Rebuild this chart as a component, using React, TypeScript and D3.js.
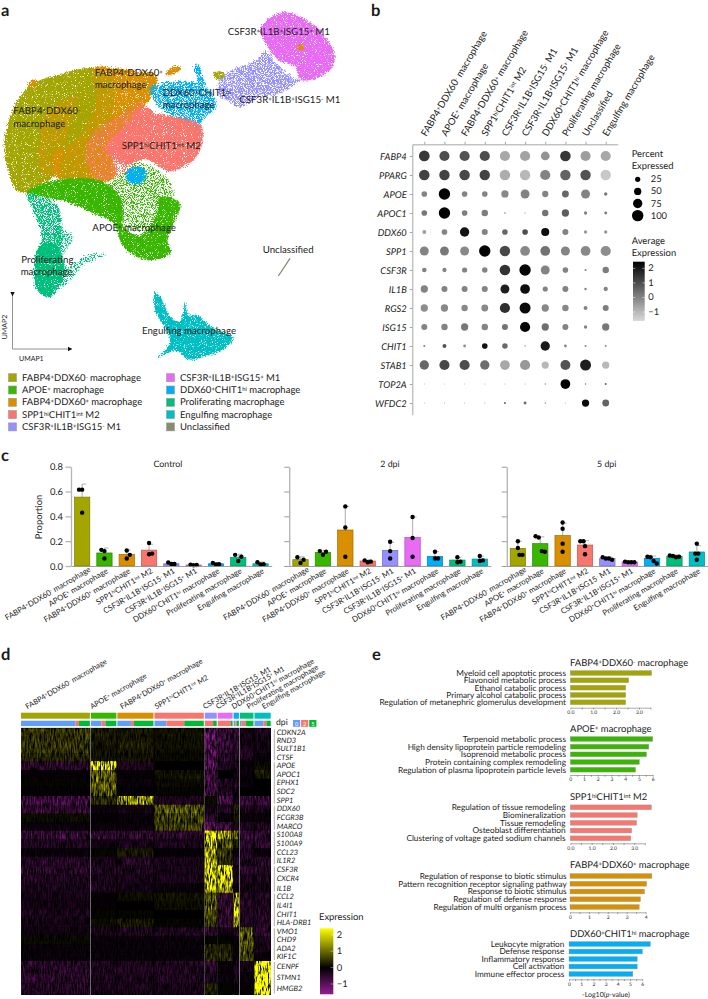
import React, {useEffect, useRef} from "react";
import * as d3 from "d3";

const FONT = "Lato, 'Noto Sans', sans-serif";

// ---- shared cluster info ----
const clusterNames = [
	"FABP4^+^DDX60^-^ macrophage",
	"APOE^+^ macrophage",
	"FABP4^+^DDX60^+^ macrophage",
	"SPP1^hi^CHIT1^int^ M2",
	"CSF3R^+^IL1B^+^ISG15^-^ M1",
	"CSF3R^+^IL1B^+^ISG15^+^ M1",
	"DDX60^+^CHIT1^hi^ macrophage",
	"Proliferating macrophage",
	"Engulfing macrophage",
];
const clusterColors = ["#a3a500", "#39b600", "#d89000", "#f8766d", "#9590ff", "#e76bf3", "#00b0f6", "#00bf7d", "#00bfc4"];
const unclassifiedColor = "#8a8a70";

// ---- panel a: UMAP cluster outlines ----
type Pt = [number, number];
const umapOlive: Pt[] = [[110,245],[170,225],[280,205],[310,225],[300,300],[290,380],[250,450],[190,500],[165,530],[120,555],[85,580],[50,570],[25,510],[13,430],[30,350],[60,290],[85,262]];
const umapOrange: Pt[] = [[282,205],[350,205],[420,215],[470,225],[455,290],[430,320],[380,380],[335,440],[345,530],[250,552],[175,535],[160,470],[215,430],[265,370],[290,300]];
const umapOrangeMix: Pt[] = [[150,330],[280,280],[300,400],[230,520],[130,520],[120,420]];
const umapOliveMix: Pt[] = [[280,215],[340,240],[340,340],[300,450],[250,540],[180,530],[200,430]];
const umapSalmon: Pt[] = [[430,320],[470,340],[520,350],[600,372],[608,420],[590,470],[530,510],[500,512],[440,478],[380,492],[340,475],[318,440],[370,380]];
const umapSalmonMix: Pt[] = [[280,400],[370,340],[430,300],[400,500],[300,540],[260,480]];
const umapGreen: Pt[] = [[80,578],[170,540],[310,545],[365,600],[372,680],[420,705],[470,645],[480,590],[540,610],[503,720],[512,760],[440,780],[370,740],[340,670],[280,640],[200,605]];
const umapGreenSparse: Pt[] = [[360,495],[440,490],[525,570],[500,620],[440,690],[370,670],[330,560]];
const umapBlue: Pt[] = [[450,262],[480,252],[580,245],[640,282],[650,322],[610,358],[590,405],[570,372],[520,350],[490,330],[462,300]];
const umapBlueArm: Pt[] = [[580,200],[595,193],[605,215],[618,265],[595,262],[590,225]];
const umapBlueSpot: Pt[] = [[385,510],[420,500],[442,520],[425,548],[400,552],[380,535]];
const umapProlif: Pt[] = [[118,740],[165,730],[195,810],[178,860],[148,892],[120,880],[103,850]];
const umapProlifUpper: Pt[] = [[82,582],[130,590],[170,612],[188,680],[180,750],[120,770],[125,700],[100,630]];
const umapProlifArm: Pt[] = [[170,690],[222,705],[205,745],[175,790],[215,795],[265,765],[320,765],[260,790],[190,860],[170,800]];
const umapPurple: Pt[] = [[660,242],[700,210],[770,180],[800,152],[830,190],[880,232],[900,240],[840,282],[780,292],[720,322],[690,302],[660,290]];
const umapPink: Pt[] = [[800,62],[850,36],[900,50],[960,90],[1005,170],[985,215],[905,240],[885,200],[835,180],[800,135],[780,90]];
const umapTeal: Pt[] = [[465,875],[485,895],[510,950],[540,965],[555,905],[565,945],[590,945],[640,985],[700,1012],[680,1040],[620,1068],[565,1078],[530,1052],[500,1060],[475,1072],[500,1045],[510,1020],[490,975],[465,930]];
const umapUnclassified: Pt[] = [[835,828],[870,775]];
const umapOrangeBitA: Pt[] = [[495,225],[525,198],[545,205],[520,222]];
const umapOrangeBitB: Pt[] = [[85,252],[100,238],[112,245],[98,264]];
const umapOrangeBitC: Pt[] = [[892,140],[905,132],[912,146],[898,150]];
const umapOliveBit: Pt[] = [[640,220],[665,215],[675,232],[650,238]];

const umapLabels: Array<[string, number, number]> = [
	["CSF3R^+^IL1B^+^ISG15^+^ M1", 683, 105],
	["FABP4^+^DDX60^+^", 284, 228],
	["macrophage", 284, 265],
	["DDX60^+^CHIT1^hi^", 488, 287],
	["macrophage", 488, 324],
	["CSF3R^+^IL1B^+^ISG15^-^ M1", 718, 310],
	["FABP4^+^DDX60^-^", 40, 342],
	["macrophage", 40, 380],
	["SPP1^hi^CHIT1^int^ M2", 365, 448],
	["APOE^+^ macrophage", 277, 692],
	["Proliferating", 64, 790],
	["macrophage", 62, 826],
	["Unclassified", 788, 760],
	["Engulfing macrophage", 426, 1002],
];

const legendOrder = [0, 1, 2, 3, 4, 5, 6, 7, 8, 9];

// ---- panel b: dot plot ----
const dotColumns = [
	"FABP4^+^DDX60^-^ macrophage",
	"APOE^+^ macrophage",
	"FABP4^+^DDX60^+^ macrophage",
	"SPP1^hi^CHIT1^int^ M2",
	"CSF3R^+^IL1B^+^ISG15^-^ M1",
	"CSF3R^+^IL1B^+^ISG15^+^ M1",
	"DDX60^+^CHIT1^hi^ macrophage",
	"Proliferating macrophage",
	"Unclassified",
	"Engulfing macrophage",
];
const dotGenes = ["FABP4", "PPARG", "APOE", "APOC1", "DDX60", "SPP1", "CSF3R", "IL1B", "RGS2", "ISG15", "CHIT1", "STAB1", "TOP2A", "WFDC2"];
const dotPercent = [
	[92, 85, 85, 85, 85, 85, 68, 90, 85, 85],
	[90, 88, 88, 88, 88, 88, 85, 88, 88, 88],
	[30, 100, 30, 30, 50, 70, 38, 45, 70, 15],
	[30, 100, 30, 40, 5, 3, 40, 50, 15, 12],
	[18, 30, 75, 35, 30, 30, 60, 35, 15, 15],
	[70, 70, 70, 100, 88, 80, 80, 72, 80, 85],
	[22, 20, 25, 28, 90, 100, 70, 30, 8, 40],
	[50, 35, 35, 35, 70, 80, 25, 35, 10, 20],
	[50, 50, 40, 45, 85, 95, 50, 40, 18, 35],
	[35, 40, 50, 40, 35, 85, 50, 35, 15, 50],
	[8, 18, 12, 30, 28, 4, 75, 12, 8, 8],
	[75, 85, 85, 75, 80, 85, 50, 82, 95, 50],
	[1, 1, 1, 2, 2, 2, 4, 80, 4, 8],
	[2, 2, 2, 2, 8, 12, 4, 2, 50, 45],
];
const dotExpression = [
	[1.4, 1.0, 0.9, 1.0, -0.7, -0.6, -0.3, 1.4, -0.5, -0.7],
	[1.2, 1.2, 1.1, 1.2, -0.8, -1.0, 0.0, 0.6, 0.9, -1.3],
	[0.0, 2.4, 0.0, 0.0, -0.1, 0.0, 0.0, 0.5, 0.0, 0.2],
	[0.2, 2.4, 0.1, 0.1, 0.2, 0.2, 0.3, 0.7, 0.0, 0.2],
	[-0.5, 0.0, 2.1, 0.0, 0.5, 1.0, 2.2, 0.0, -0.4, -0.4],
	[0.0, 0.2, -0.1, 2.4, 1.1, -0.1, 0.3, 0.0, -0.1, -0.2],
	[0.0, 0.0, 0.0, 0.0, 1.5, 2.4, 0.0, 0.0, 0.0, 0.1],
	[0.0, 0.0, 0.0, 0.0, 1.9, 2.2, 0.0, 0.0, 0.0, 0.0],
	[-0.2, -0.1, -0.1, -0.1, 1.6, 2.3, -0.1, -0.1, 0.0, 0.1],
	[0.0, 0.0, 0.2, 0.0, 0.3, 2.4, 0.4, 0.0, 0.0, 0.2],
	[0.0, 0.9, -0.2, 2.1, 0.5, 0.0, 2.0, -0.1, -0.1, -0.3],
	[0.5, 1.1, 1.0, 0.4, -0.7, -0.4, -1.0, 0.9, 1.9, -1.0],
	[0.0, 0.0, 0.0, 0.0, 0.0, 0.0, 0.0, 2.4, 0.4, 0.5],
	[0.0, 0.0, 0.0, 0.0, 0.5, 0.5, 0.0, 0.0, 2.3, 0.6],
];
const percentLegend = [25, 50, 75, 100];
const avgExprTicks = [2, 1, 0, -1];

// ---- panel c: proportions ----
const controlMeans = [0.555, 0.105, 0.093, 0.128, 0.018, 0.008, 0.018, 0.068, 0.018];
const controlUpper = [0.66, 0.145, 0.13, 0.175, 0.03, 0.012, 0.028, 0.095, 0.032];
const controlDots = [[0.615, 0.615, 0.43], [0.13, 0.12, 0.06], [0.125, 0.06, 0.09], [0.185, 0.095, 0.1], [0.028, 0.016, 0.016], [0.01, 0.006, 0.008], [0.025, 0.012, 0.014], [0.09, 0.04, 0.075], [0.03, 0.012, 0.014]];
const dpi2Means = [0.051, 0.11, 0.29, 0.04, 0.126, 0.231, 0.078, 0.048, 0.056];
const dpi2Upper = [0.075, 0.125, 0.48, 0.05, 0.19, 0.395, 0.115, 0.07, 0.08];
const dpi2Dots = [[0.07, 0.025, 0.05], [0.12, 0.09, 0.115], [0.48, 0.31, 0.075], [0.045, 0.03, 0.035], [0.195, 0.12, 0.06], [0.395, 0.225, 0.075], [0.115, 0.06, 0.06], [0.07, 0.03, 0.035], [0.08, 0.04, 0.045]];
const dpi5Means = [0.142, 0.18, 0.245, 0.169, 0.062, 0.032, 0.062, 0.078, 0.113];
const dpi5Upper = [0.2, 0.235, 0.345, 0.205, 0.075, 0.037, 0.08, 0.09, 0.165];
const dpi5Dots = [[0.2, 0.145, 0.09, 0.09], [0.24, 0.23, 0.12, 0.115], [0.35, 0.3, 0.18, 0.115], [0.2, 0.2, 0.16, 0.095], [0.07, 0.06, 0.06, 0.05], [0.035, 0.03, 0.03, 0.03], [0.075, 0.07, 0.04, 0.02], [0.085, 0.08, 0.07, 0.075], [0.18, 0.1, 0.1, 0.05]];

// ---- panel d: heatmap ----
const heatGroups = [
	["CDKN2A", "RND3", "SULT1B1", "CTSF"],
	["APOE", "APOC1", "EPHX1", "SDC2", "SPP1"],
	["DDX60", "FCGR3B", "MARCO"],
	["S100A8", "S100A9", "CCL23", "IL1R2"],
	["CSF3R", "CXCR4", "IL1B"],
	["CCL2", "IL4I1", "CHIT1", "HLA-DRB1"],
	["VMO1", "CHD9", "ADA2", "KIF1C"],
	["CENPF", "STMN1", "HMGB2"],
];
const heatValues = [
	[0.45, 0.22, 0.2, 0.15, -0.8, -0.5, -0.6, -0.2, -0.3],
	[0.42, 0.2, 0.22, 0.12, -0.8, -0.55, -0.5, -0.2, -0.2],
	[0.42, 0.15, 0.22, 0.12, -0.85, -0.5, -0.4, -0.3, -0.2],
	[0.3, 0.15, 0.15, 0.08, -0.7, -0.4, -0.4, -0.3, -0.1],
	[-0.4, 1.7, -0.3, 0.0, -0.8, -0.3, -0.3, -0.1, 0.1],
	[-0.05, 0.8, -0.05, 0.15, -0.6, 0.0, -0.2, -0.1, 0.2],
	[0.05, 0.75, -0.1, 0.08, -0.6, -0.3, -0.3, -0.1, 0.0],
	[-0.05, 0.7, -0.05, 0.05, -0.6, -0.3, -0.2, 0.0, 0.0],
	[-0.6, 0.35, 1.2, -0.3, 0.1, -0.7, -0.2, -0.5, -0.5],
	[-0.45, -0.1, -0.2, 0.7, -0.2, -0.3, 0.3, -0.3, -0.3],
	[0.1, -0.05, -0.1, 0.55, -0.4, -0.1, 0.15, -0.1, -0.1],
	[-0.1, -0.1, -0.1, 0.5, -0.7, -0.6, -0.3, -0.3, -0.3],
	[-0.5, -0.45, -0.45, -0.45, 2.0, 1.2, 0.9, -0.5, -0.5],
	[-0.3, -0.2, -0.25, -0.25, 1.6, 0.6, 0.25, -0.4, -0.4],
	[-0.1, 0.05, 0.2, -0.05, 1.4, 0.45, -0.1, -0.3, -0.1],
	[-0.35, -0.25, -0.35, -0.25, 1.3, 0.35, -0.3, -0.4, -0.4],
	[-0.4, -0.3, -0.3, -0.25, 1.9, 2.2, -0.2, -0.4, -0.4],
	[-0.3, -0.25, -0.25, -0.25, 1.7, 1.8, -0.3, -0.25, -0.25],
	[-0.25, -0.25, -0.2, -0.1, 1.5, 1.4, -0.1, -0.2, -0.2],
	[-0.2, -0.05, 0.1, 0.15, 0.8, -0.45, 1.5, -0.3, -0.3],
	[-0.2, -0.05, 0.0, 0.1, 0.8, -0.45, 1.7, -0.35, -0.35],
	[-0.25, 0.05, 0.05, 0.0, 0.6, -0.5, 1.7, -0.35, -0.4],
	[-0.2, 0.1, 0.2, 0.05, 0.45, -0.5, 1.3, -0.3, -0.35],
	[-0.15, -0.25, -0.3, -0.3, -0.45, -0.15, -0.4, 0.8, -0.45],
	[0.08, -0.1, -0.1, -0.1, 0.05, 0.05, -0.1, 0.7, -0.25],
	[-0.1, -0.1, -0.1, -0.1, 0.3, 0.25, -0.1, 0.6, -0.25],
	[-0.1, -0.1, -0.1, -0.1, 0.35, 0.3, -0.1, 0.6, -0.1],
	[-0.4, -0.3, -0.3, -0.3, -0.4, -0.1, -0.3, -0.2, 2.3],
	[-0.4, -0.3, -0.3, -0.3, -0.3, -0.1, -0.3, -0.1, 2.3],
	[-0.35, -0.25, -0.25, -0.25, 0.25, 0.05, -0.1, -0.05, 2.3],
];
// cells per cluster at 0, 2 and 5 dpi
const dpiCounts = [[165, 10, 33], [32, 12, 33], [41, 9, 59], [36, 54, 59], [0, 25, 11], [0, 40, 5], [5, 4, 7], [4, 13, 24], [27, 9, 13]];
const dpiColors = ["#619cff", "#f8766d", "#00ba38"];
const dpiLabels = ["0", "2", "5"];
const heatOrder = [0, 1, 2, 3, 4, 5, 6, 7, 8];
const expressionTicks = [2, 1, 0, -1];

// ---- panel e: enrichment ----
const termsF4n = ["Myeloid cell apoptotic process", "Flavonoid metabolic process", "Ethanol catabolic process", "Primary alcohol catabolic process", "Regulation of metanephric glomerulus development"];
const scoresF4n = [3.55, 2.55, 2.42, 2.42, 2.42];
const termsApoe = ["Terpenoid metabolic process", "High density lipoprotein particle remodeling", "Isoprenoid metabolic process", "Protein containing complex remodeling", "Regulation of plasma lipoprotein particle levels"];
const scoresApoe = [6.0, 5.72, 5.55, 5.03, 4.75];
const termsSpp1 = ["Regulation of tissue remodeling", "Biomineralization", "Tissue remodeling", "Osteoblast differentiation", "Clustering of voltage gated sodium channels"];
const scoresSpp1 = [3.81, 3.14, 3.11, 2.88, 2.84];
const termsF4p = ["Regulation of response to biotic stimulus", "Pattern recognition receptor signaling pathway", "Response to biotic stimulus", "Regulation of defense response", "Regulation of multi organism process"];
const scoresF4p = [4.33, 4.05, 3.94, 3.73, 3.66];
const termsDdx = ["Leukocyte migration", "Defense response", "Inflammatory response", "Cell activation", "Immune effector process"];
const scoresDdx = [6.67, 6.02, 5.59, 5.59, 5.23];

// superscript markup: "A^+^B" -> A, raised +, B
const Sup: React.FC<{text: string}> = ({text}) => (
	<>
		{text.split("^").map((part, i) =>
			i % 2 ? (
				<tspan key={i} fontSize="62%" baselineShift="38%">
					{part}
				</tspan>
			) : (
				<tspan key={i}>{part}</tspan>
			),
		)}
	</>
);

// runs a d3 axis on a <g> and restyles it
const AxisG: React.FC<{
	axis: any;
	transform?: string;
	stroke?: string;
	strokeWidth?: number;
	fontSize?: number;
	italic?: boolean;
}> = ({axis, transform, stroke = "#8f8f8f", strokeWidth = 0.8, fontSize = 9.4, italic}) => {
	const ref = useRef<SVGGElement>(null);
	useEffect(() => {
		const g = d3.select(ref.current as SVGGElement);
		g.call(axis);
		g.attr("font-family", FONT).attr("font-size", fontSize);
		g.selectAll("path,line").attr("stroke", stroke).attr("stroke-width", strokeWidth);
		g.selectAll("text").attr("fill", "#1c1c1c").attr("font-style", italic ? "italic" : "normal");
	}, [axis, stroke, strokeWidth, fontSize, italic]);
	return <g ref={ref} transform={transform} />;
};

const Grain: React.FC<{id: string; seed: number; k: number; b: number; scale: number}> = ({id, seed, k, b, scale}) => (
	<filter id={id} filterUnits="userSpaceOnUse" x="0" y="0" width="708" height="365" colorInterpolationFilters="sRGB">
		<feTurbulence type="fractalNoise" baseFrequency="1.1" numOctaves="2" seed={seed} result="n" />
		<feDisplacementMap in="SourceGraphic" in2="n" scale={scale} xChannelSelector="R" yChannelSelector="G" result="d" />
		<feColorMatrix in="n" type="matrix" values={`0 0 0 0 0 0 0 0 0 0 0 0 0 0 0 ${k} 0 0 0 ${b}`} result="mask" />
		<feComposite in="d" in2="mask" operator="in" />
	</filter>
);

// ---- panel a ----
const UmapPanel: React.FC = () => {
	const ux = d3.scaleLinear().domain([0, 1110]).range([0, 370]);
	const uy = d3.scaleLinear().domain([0, 1020]).range([0, 340]);
	const blob = d3.line<Pt>().x((d) => ux(d[0])).y((d) => uy(d[1])).curve(d3.curveCatmullRomClosed.alpha(0.5));
	const layers: Array<[Pt[], string, string]> = [
		[umapGreenSparse, clusterColors[1], "sparse"],
		[umapProlifArm, clusterColors[7], "sparse"],
		[umapOlive, clusterColors[0], "dense"],
		[umapOrange, clusterColors[2], "dense"],
		[umapOrangeMix, clusterColors[2], "sparse"],
		[umapOliveMix, clusterColors[0], "sparse"],
		[umapOrangeBitA, clusterColors[2], "dense"],
		[umapOrangeBitB, clusterColors[2], "dense"],
		[umapOliveBit, clusterColors[0], "dense"],
		[umapBlue, clusterColors[6], "mid"],
		[umapBlueArm, clusterColors[6], "mid"],
		[umapSalmon, clusterColors[3], "dense"],
		[umapSalmonMix, clusterColors[3], "sparse"],
		[umapGreen, clusterColors[1], "dense"],
		[umapBlueSpot, clusterColors[6], "dense"],
		[umapProlifUpper, clusterColors[7], "mid"],
		[umapProlif, clusterColors[7], "dense"],
		[umapPurple, clusterColors[4], "mid"],
		[umapPink, clusterColors[5], "dense"],
		[umapOrangeBitC, clusterColors[2], "dense"],
		[umapTeal, clusterColors[8], "dense"],
	];
	const names = [...clusterNames.slice(0, 9), "Unclassified"];
	const colors = [...clusterColors, unclassifiedColor];
	const segment = d3.line<Pt>().x((d) => ux(d[0])).y((d) => uy(d[1]));
	return (
		<g fontFamily={FONT} fill="#1c1c1c">
			<defs>
				<Grain id="grain-dense" seed={3} k={7} b={-1.75} scale={6} />
				<Grain id="grain-mid" seed={8} k={8} b={-3.1} scale={8} />
				<Grain id="grain-sparse" seed={5} k={8} b={-3.7} scale={9} />
				<marker id="arrow" viewBox="0 0 6 6" refX="3" refY="3" markerWidth="6" markerHeight="6" orient="auto">
					<path d="M0,0L6,3L0,6Z" fill="#111" />
				</marker>
			</defs>
			{layers.map(([pts, color, kind], i) => (
				<path key={i} d={blob(pts) as string} fill={color} filter={`url(#grain-${kind})`} />
			))}
			<path d={segment(umapUnclassified) as string} stroke={unclassifiedColor} strokeWidth={1.3} fill="none" />
			{umapLabels.map(([label, x, y], i) => (
				<text key={i} x={ux(x)} y={uy(y)} fontSize={9.7}>
					<Sup text={label} />
				</text>
			))}
			<path d="M12.5,294V349H70" fill="none" stroke="#777" strokeWidth={0.8} markerStart="url(#arrow)" markerEnd="url(#arrow)" />
			<text transform="translate(7,327) rotate(-90)" textAnchor="middle" fontSize={7}>UMAP2</text>
			<text x={19} y={361} fontSize={7}>UMAP1</text>
			{legendOrder.map((c, i) => {
				const col = i < 5 ? 0 : 1;
				const row = i % 5;
				const y = 377.7 + row * 12.3;
				return (
					<g key={c}>
						<rect x={col ? 166.5 : 8.5} y={y - 4} width={8} height={8} fill={colors[c]} stroke="#9a9a9a" strokeWidth={0.6} />
						<text x={col ? 180 : 22} y={y + 3} fontSize={9.5}>
							<Sup text={names[c]} />
						</text>
					</g>
				);
			})}
		</g>
	);
};

// ---- panel b ----
const DotPanel: React.FC = () => {
	const cx = d3.scalePoint<string>().domain(dotColumns).range([412.3, 617.7]).padding(0.595);
	const cy = d3.scalePoint<string>().domain(dotGenes).range([144.3, 414.7]).padding(0.615);
	const r = d3.scaleLinear().domain([0, 25, 100]).range([0.3, 2.6, 5.7]);
	const gray = d3.scaleLinear<string>().domain([-1.62, 2.46]).range(["#d9d9d9", "#000000"]);
	const barY = d3.scaleLinear().domain([-1.62, 2.46]).range([321, 261.7]);
	const stops = d3.range(0, 1.01, 0.1);
	const topAxis = d3.axisTop(cx).tickFormat(() => "").tickSizeInner(2.5).tickSizeOuter(0);
	const leftAxis = d3.axisLeft(cy).tickSizeInner(2.5).tickSizeOuter(0).tickPadding(3);
	return (
		<g fontFamily={FONT} fill="#1c1c1c">
			<AxisG axis={topAxis} transform="translate(0,144.3)" />
			<AxisG axis={leftAxis} transform="translate(412.3,0)" italic />
			{dotColumns.map((name) => (
				<text key={name} transform={`translate(${(cx(name) as number) + 2},137) rotate(-59.5)`} fontSize={9.6}>
					<Sup text={name} />
				</text>
			))}
			{dotGenes.map((gene, i) =>
				dotColumns.map((name, j) => (
					<circle key={gene + name} cx={cx(name)} cy={cy(gene)} r={r(dotPercent[i][j])} fill={gray(dotExpression[i][j])} />
				)),
			)}
			<text x={631.7} y={157} fontSize={9.4}>Percent</text>
			<text x={631.7} y={169} fontSize={9.4}>Expressed</text>
			{percentLegend.map((p, i) => (
				<g key={p}>
					<circle cx={637.7} cy={179.3 + i * 12.1} r={r(p)} fill="#000" />
					<text x={650.7} y={182.3 + i * 12.1} fontSize={9.4}>{p}</text>
				</g>
			))}
			<text x={631.7} y={244} fontSize={9.4}>Average</text>
			<text x={631.7} y={256} fontSize={9.4}>Expression</text>
			<defs>
				<linearGradient id="gray-bar" x1="0" y1="1" x2="0" y2="0">
					{stops.map((s) => (
						<stop key={s} offset={s} stopColor={gray(-1.62 + s * 4.08)} />
					))}
				</linearGradient>
			</defs>
			<rect x={633} y={261.7} width={11.7} height={59.3} fill="url(#gray-bar)" />
			{avgExprTicks.map((t) => (
				<g key={t}>
					<line x1={633} x2={635.3} y1={barY(t)} y2={barY(t)} stroke="#fff" strokeWidth={0.5} />
					<line x1={642.4} x2={644.7} y1={barY(t)} y2={barY(t)} stroke="#fff" strokeWidth={0.5} />
					<text x={648.3} y={barY(t) + 3} fontSize={9.4}>{t === -1 ? "−1" : t}</text>
				</g>
			))}
		</g>
	);
};

// ---- panel c ----
const BarPanel: React.FC<{
	title: string;
	titleX: number;
	x0: number;
	width: number;
	means: number[];
	upper: number[];
	dots: number[][];
	showLabels?: boolean;
}> = ({title, titleX, x0, width, means, upper, dots, showLabels}) => {
	const x = d3.scaleBand<string>().domain(clusterNames).range([x0, x0 + width]).paddingInner(0.314).paddingOuter(0.157);
	const y = d3.scaleLinear().domain([0, 0.8]).range([566, 466.7]);
	const bw = x.bandwidth();
	const yAxis = d3.axisLeft(y).tickValues([0, 0.2, 0.4, 0.6, 0.8]).tickSizeInner(showLabels ? 5.5 : 5).tickSizeOuter(0).tickPadding(2.5)
		.tickFormat(showLabels ? (d3.format(".1f") as any) : () => "");
	const xAxis = d3.axisBottom(x).tickFormat(() => "").tickSize(0);
	return (
		<g fontFamily={FONT} fill="#1c1c1c">
			<text x={titleX} y={467} textAnchor="middle" fontSize={8.8}>{title}</text>
			{clusterNames.map((name, i) => {
				const left = x(name) as number;
				const mid = left + bw / 2;
				const near = (v: number, j: number) => dots[i].some((o, k) => k !== j && Math.abs(o - v) < 0.035);
				return (
					<g key={name}>
						<line x1={mid} x2={mid} y1={y(upper[i])} y2={y(means[i])} stroke="#bdbdbd" strokeWidth={1.3} />
						<line x1={mid} x2={mid + 4} y1={y(upper[i])} y2={y(upper[i])} stroke="#666" strokeWidth={0.5} />
						<rect x={left} y={y(means[i])} width={bw} height={566 - y(means[i])} fill={clusterColors[i]} stroke={d3.color(clusterColors[i])?.darker(0.8).formatHex()} strokeWidth={0.7} />
						{dots[i].map((v, j) => (
							<circle key={j} cx={mid + (near(v, j) ? (j - (dots[i].length - 1) / 2) * 3.1 : 0)} cy={y(v)} r={2.2} fill="#000" />
						))}
						<text transform={`translate(${mid + (i === 0 ? 9 : 4)},${i === 0 ? 571 : 572.5}) rotate(-30.5)`} textAnchor="end" fontSize={7.8}>
							<Sup text={name} />
						</text>
					</g>
				);
			})}
			<AxisG axis={xAxis} transform="translate(0,566)" stroke="#8a8a8a" strokeWidth={0.8} />
			<AxisG axis={yAxis} transform={`translate(${x0},0)`} stroke={showLabels ? "#b5b5b5" : "#8f8f8f"} strokeWidth={showLabels ? 1.3 : 0.9} />
			{showLabels && (
				<text transform="translate(41.5,517) rotate(-90)" textAnchor="middle" fontSize={9.4}>Proportion</text>
			)}
		</g>
	);
};

// ---- panel d ----
const HeatPanel: React.FC = () => {
	const gapUnits = 3;
	const sizes = dpiCounts.map((c) => d3.sum(c));
	const starts = sizes.map((_, i) => d3.sum(sizes.slice(0, i)) + i * gapUnits);
	const hx = d3.scaleLinear().domain([0, d3.sum(sizes) + 8 * gapUnits]).range([21, 270.7]);
	const groupEdges = [728.3, 761.3, 804.7, 830.7, 865.3, 892.7, 927.3, 961, 994.3];
	const heat = d3.scaleLinear<string>().domain([-1.63, 0, 2.4]).range(["#941c94", "#000000", "#ffff00"]).clamp(true);
	const barY = d3.scaleLinear().domain([-1.63, 2.4]).range([994.3, 928.3]);
	const labelDx = [6.3, 1, 4.7, 2, 0, 0, 0, 8.7, 9.3];
	const stops = d3.range(0, 1.01, 0.1);
	let row = -1;
	return (
		<g fontFamily={FONT} fill="#1c1c1c">
			<defs>
				<filter id="streak" filterUnits="userSpaceOnUse" x="21" y="728" width="250" height="267" colorInterpolationFilters="sRGB">
					<feTurbulence type="fractalNoise" baseFrequency="0.7 0.12" numOctaves="3" seed="11" />
					<feColorMatrix type="matrix" values="1 0 0 0 0 1 0 0 0 0 1 0 0 0 0 0 0 0 0 1" result="n" />
					<feComposite in="SourceGraphic" in2="n" operator="arithmetic" k1="4" k2="-1.05" k3="0" k4="0" />
				</filter>
				<linearGradient id="heat-bar" x1="0" y1="1" x2="0" y2="0">
					{stops.map((s) => (
						<stop key={s} offset={s} stopColor={heat(-1.63 + s * 4.03)} />
					))}
				</linearGradient>
			</defs>
			{heatOrder.map((c) => {
				const x1 = hx(starts[c]);
				const w = hx(sizes[c]) - hx(0);
				let acc = starts[c];
				return (
					<g key={c}>
						<text transform={`translate(${x1 + labelDx[c]},709.3) rotate(-30)`} fontSize={7.4}>
							<Sup text={clusterNames[c]} />
						</text>
						<rect x={x1} y={712.7} width={w} height={6} fill={clusterColors[c]} />
						{dpiCounts[c].map((n, k) => {
							const rx = hx(acc);
							acc += n;
							return <rect key={k} x={rx} y={720.7} width={hx(n) - hx(0)} height={5.4} fill={dpiColors[k]} />;
						})}
					</g>
				);
			})}
			<rect x={21} y={727.6} width={249.7} height={267.4} fill="#a8a8a8" />
			<g filter="url(#streak)">
				{heatGroups.map((genes, g) => {
					const band = d3.scaleBand<string>().domain(genes).range([groupEdges[g], groupEdges[g + 1]]);
					return genes.map((gene) => {
						row += 1;
						const vals = heatValues[row];
						return heatOrder.map((c) => (
							<rect key={gene + c} x={hx(starts[c])} y={band(gene)} width={hx(sizes[c]) - hx(0)} height={band.bandwidth() + 0.4} fill={heat(vals[c])} />
						));
					});
				})}
			</g>
			{heatGroups.map((genes, g) => {
				const band = d3.scaleBand<string>().domain(genes).range([groupEdges[g], groupEdges[g + 1]]);
				return (
					<g key={g}>
						<line x1={274.3} x2={274.3} y1={groupEdges[g] + 1} y2={groupEdges[g + 1] - 1} stroke="#888" strokeWidth={0.7} />
						{genes.map((gene) => (
							<text key={gene} x={276.7} y={(band(gene) as number) + band.bandwidth() / 2 + 2.4} fontSize={7.5} fontStyle="italic">
								{gene}
							</text>
						))}
					</g>
				);
			})}
			<text x={276} y={725} fontSize={8.6}>dpi</text>
			{dpiLabels.map((d, i) => (
				<g key={d}>
					<rect x={293 + i * 8.1} y={720} width={7.2} height={6.8} fill={dpiColors[i]} />
					<text x={296.6 + i * 8.1} y={725.6} textAnchor="middle" fontSize={5.5} fill="#fff">{d}</text>
				</g>
			))}
			<text x={319} y={920} fontSize={9.4}>Expression</text>
			<rect x={320} y={928.3} width={13.3} height={66} fill="url(#heat-bar)" />
			{expressionTicks.map((t) => (
				<g key={t}>
					<line x1={330.5} x2={333.3} y1={barY(t)} y2={barY(t)} stroke="#fff" strokeWidth={0.4} />
					<text x={336.7} y={barY(t) + 3} fontSize={9.4}>{t === -1 ? "−1" : t}</text>
				</g>
			))}
		</g>
	);
};

// ---- panel e ----
const EnrichGroup: React.FC<{
	title: string;
	color: string;
	terms: string[];
	scores: number[];
	x0: number;
	unit: number;
	axisMax: number;
	firstY: number;
	lastY: number;
	axisY: number;
	titleY: number;
	labelX: number;
	decimals?: boolean;
}> = ({title, color, terms, scores, x0, unit, axisMax, firstY, lastY, axisY, titleY, labelX, decimals}) => {
	const x = d3.scaleLinear().domain([0, axisMax]).range([x0, x0 + unit * axisMax]);
	const y = d3.scalePoint<string>().domain(terms).range([firstY, lastY]);
	const fmt = decimals ? d3.format(".1f") : d3.format("d");
	const axis = d3.axisBottom(x)
		.tickValues(d3.range(0, axisMax + 0.01, 0.5))
		.tickSizeInner(1.8)
		.tickSizeOuter(0)
		.tickPadding(1)
		.tickFormat((d: any) => (Number.isInteger(d) ? fmt(d) : ""));
	return (
		<g fontFamily={FONT} fill="#1c1c1c">
			<text x={570} y={titleY} fontSize={9.45}>
				<Sup text={title} />
			</text>
			{terms.map((t, i) => (
				<g key={t}>
					<text x={labelX} y={(y(t) as number) + 2.9} textAnchor="end" fontSize={8.25}>{t}</text>
					<rect x={x0} y={(y(t) as number) - 2.4} width={x(scores[i]) - x0} height={4.8} fill={color} stroke="#9c9c9c" strokeWidth={0.4} />
				</g>
			))}
			<AxisG axis={axis} transform={`translate(0,${axisY})`} stroke="#555" strokeWidth={0.5} fontSize={5} />
		</g>
	);
};

const App: React.FC = () => (
	<svg width={708} height={999} viewBox="0 0 708 999" textRendering="geometricPrecision" style={{position: "absolute", left: 0, top: 0, display: "block", background: "#fff"}}>
		<g fontFamily={FONT} fontWeight={700} fontSize={16.5} fill="#1a1a1a">
			<text x={1} y={16}>a</text>
			<text x={371} y={16}>b</text>
			<text x={1} y={461}>c</text>
			<text x={1} y={660}>d</text>
			<text x={372} y={660}>e</text>
		</g>
		<UmapPanel />
		<DotPanel />
		<BarPanel title="Control" titleX={168} x0={71} width={200.7} means={controlMeans} upper={controlUpper} dots={controlDots} showLabels />
		<BarPanel title="2 dpi" titleX={390} x0={289.3} width={201.7} means={dpi2Means} upper={dpi2Upper} dots={dpi2Dots} />
		<BarPanel title="5 dpi" titleX={606.7} x0={506.7} width={201.3} means={dpi5Means} upper={dpi5Upper} dots={dpi5Dots} />
		<HeatPanel />
		<EnrichGroup title="FABP4^+^DDX60^-^ macrophage" color={clusterColors[0]} terms={termsF4n} scores={scoresF4n} x0={570.3} unit={22.9} axisMax={3.5} firstY={673} lastY={702.3} axisY={707.7} titleY={665.5} labelX={566} decimals />
		<EnrichGroup title="APOE^+^ macrophage" color={clusterColors[1]} terms={termsApoe} scores={scoresApoe} x0={570.3} unit={13.73} axisMax={6} firstY={739} lastY={769.7} axisY={775} titleY={732} labelX={566} />
		<EnrichGroup title="SPP1^hi^CHIT1^int^ M2" color={clusterColors[3]} terms={termsSpp1} scores={scoresSpp1} x0={570.3} unit={21.3} axisMax={3.5} firstY={807.3} lastY={838.3} axisY={843.3} titleY={800} labelX={565.5} decimals />
		<EnrichGroup title="FABP4^+^DDX60^+^ macrophage" color={clusterColors[2]} terms={termsF4p} scores={scoresF4p} x0={570} unit={18.9} axisMax={4} firstY={876} lastY={907} axisY={912.3} titleY={867.5} labelX={566.7} />
		<EnrichGroup title="DDX60^+^CHIT1^hi^ macrophage" color={clusterColors[6]} terms={termsDdx} scores={scoresDdx} x0={569} unit={12.2} axisMax={6} firstY={944} lastY={974} axisY={979.3} titleY={937} labelX={564.3} />
		<text x={606} y={997} textAnchor="middle" fontFamily={FONT} fontSize={7} fill="#1c1c1c">
			-Log10(<tspan fontStyle="italic">p</tspan>-value)
		</text>
	</svg>
);

export default App;
